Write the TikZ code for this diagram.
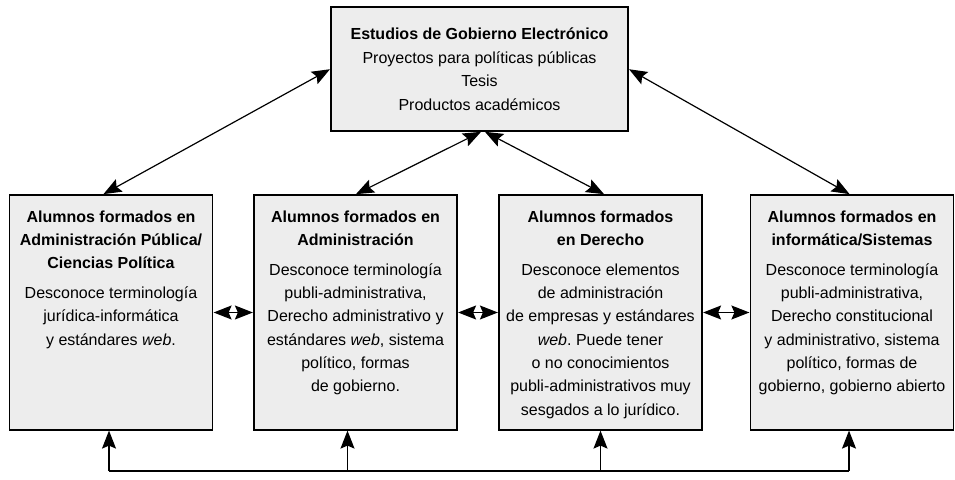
\documentclass[tikz,border=0pt]{standalone}
\usepackage{fontspec}
\setmainfont{Liberation Sans}
\usetikzlibrary{arrows.meta}
\def\titulo#1{\textbf{#1}}
\frenchspacing

\begin{document}
\begin{tikzpicture}[x=1pt, y=1pt,
		box/.style={draw=black, line width=1.2pt, fill=black!7, minimum width=203pt, minimum height=235pt, inner sep=0pt},
		boxtext/.style={anchor=north, align=center, inner sep=0pt, font=\fontsize{16}{23.3}\selectfont},
		link/.style={line width=1.2pt, {Stealth[length=18pt,width=14pt,inset=3pt]}-{Stealth[length=18pt,width=14pt,inset=3pt]}, shorten <=0.5pt, shorten >=0.5pt},
		feed/.style={line width=1.2pt, -{Stealth[length=18pt,width=14pt,inset=3pt]}}]
		%%%%% START %%%%%
		
		\useasboundingbox (0, 0) rectangle (955, 479);
		
		\node[box, minimum width=297pt, minimum height=124pt, align=center, font=\fontsize{16}{23.5}\selectfont] (estudios) at (479.5, 410)
			{\titulo{Estudios de Gobierno Electrónico}\\Proyectos para políticas públicas\\Tesis\\Productos académicos};
		
		\node[box] (adminpub) at (111, 166.5) {};
		\node[box] (admin) at (355.5, 166.5) {};
		\node[box] (derecho) at (600.5, 166.5) {};
		\node[box] (sistemas) at (852, 166.5) {};
		
		\node[boxtext] (adminpub-txt) at ([yshift=-16pt]adminpub.north)
			{\titulo{Alumnos formados en}\\\titulo{Administración Pública/}\\\titulo{Ciencias Política}\\[6.5pt]
			Desconoce terminología\\jurídica-informática\\y estándares \textit{web}.};
		\node[boxtext] (admin-txt) at ([yshift=-16pt]admin.north)
			{\titulo{Alumnos formados en}\\\titulo{Administración}\\[6.5pt]
			Desconoce terminología\\publi-administrativa,\\Derecho administrativo y\\estándares \textit{web}, sistema\\político, formas\\de gobierno.};
		\node[boxtext] (derecho-txt) at ([yshift=-16pt]derecho.north)
			{\titulo{Alumnos formados}\\\titulo{en Derecho}\\[6.5pt]
			Desconoce elementos\\de administración\\de empresas y estándares\\\textit{web}. Puede tener\\o no conocimientos\\publi-administrativos muy\\sesgados a lo jurídico.};
		\node[boxtext] (sistemas-txt) at ([yshift=-16pt]sistemas.north)
			{\titulo{Alumnos formados en}\\\titulo{informática/Sistemas}\\[6.5pt]
			Desconoce terminología\\publi-administrativa,\\Derecho constitucional\\y administrativo, sistema\\político, formas de\\gobierno, gobierno abierto};
		
		% arrows from and to the top box
		\draw[link] (estudios.west) -- ([xshift=-8pt]adminpub.north);
		\draw[link] ([xshift=2pt]estudios.south) -- (admin.north);
		\draw[link] ([xshift=5pt]estudios.south) -- ([xshift=4pt]derecho.north);
		\draw[link] (estudios.east) -- ([xshift=-2pt]sistemas.north);
		
		% small arrows between the boxes
		\draw[link] (adminpub.east) -- (admin.west);
		\draw[link] (admin.east) -- (derecho.west);
		\draw[link] (derecho.east) -- (sistemas.west);
		
		% line along the bottom
		\coordinate (bus) at (0, 8);
		\coordinate (adminpub-in) at ([xshift=-2pt]adminpub.south);
		\coordinate (admin-in) at ([xshift=-8pt]admin.south);
		\coordinate (derecho-in) at (derecho.south);
		\coordinate (sistemas-in) at ([xshift=-3pt]sistemas.south);
		\draw[line width=1.2pt] (adminpub-in |- bus) -- (sistemas-in |- bus);
		\draw[feed] (adminpub-in |- bus) -- (adminpub-in);
		\draw[feed] (admin-in |- bus) -- (admin-in);
		\draw[feed] (derecho-in |- bus) -- (derecho-in);
		\draw[feed] (sistemas-in |- bus) -- (sistemas-in);
		
		%%%%% END %%%%%
	\end{tikzpicture}
\end{document}
